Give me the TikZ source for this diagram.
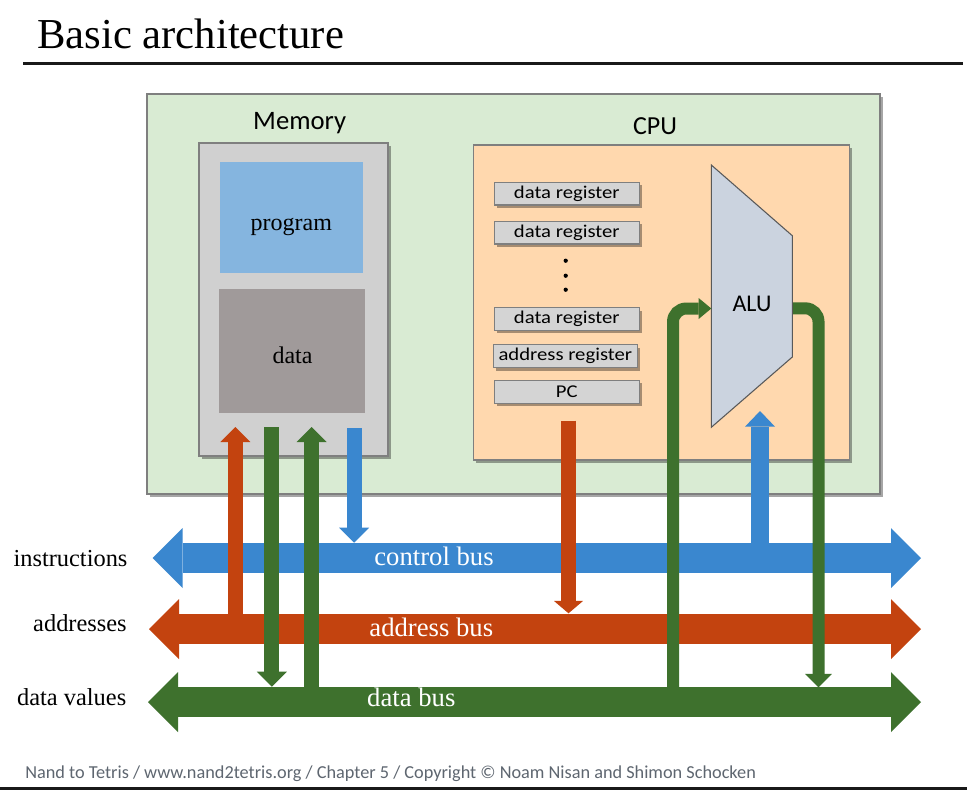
\documentclass[tikz,border=0pt]{standalone}
\usepackage{fontspec}
\setmainfont{Liberation Serif}
\newfontfamily\calfont{Carlito}
\newfontfamily\regfont[FakeStretch=1.15]{Carlito}
\usetikzlibrary{arrows.meta,shadows,fit}
\definecolor{bgGreen}{HTML}{D9EBD3}
\definecolor{memGrey}{HTML}{D0D0D0}
\definecolor{progBlue}{HTML}{85B5DF}
\definecolor{dataGrey}{HTML}{A09A9A}
\definecolor{cpuPeach}{HTML}{FFD8AE}
\definecolor{aluFill}{HTML}{CBD3DF}
\definecolor{regFill}{HTML}{D4D4D4}
\definecolor{edgeGrey}{HTML}{7F7F7F}
\definecolor{busBlue}{HTML}{3A87CF}
\definecolor{busRed}{HTML}{C3430F}
\definecolor{busGreen}{HTML}{3E712D}
\definecolor{footGrey}{HTML}{5E6670}
\begin{document}
\begin{tikzpicture}[x=0.75pt,y=-0.75pt,
  shad/.style={drop shadow={shadow xshift=2.2pt,shadow yshift=-2.2pt,fill=black,opacity=0.35}},
  boxfit/.style={inner sep=0pt,outer sep=0pt},
  panel/.style={boxfit,draw=edgeGrey,line width=0.8pt,shad},
  regbox/.style={boxfit,draw=edgeGrey,line width=0.8pt,fill=regFill,shad},
  regtxt/.style={inner sep=0pt,anchor=center,font=\regfont\fontsize{13.5}{14}\selectfont},
  bus/.style={line width=22.5pt,
    {Triangle[width=45pt,length=22.5pt,line width=0pt]}-{Triangle[width=45pt,length=22.5pt,line width=0pt]}},
  wide/.style={line width=11.25pt,-{Triangle[width=22.5pt,length=11.25pt,line width=0pt]}},
  buslbl/.style={anchor=base,text=white,font=\fontsize{20}{24}\selectfont,inner sep=0pt},
  sidelbl/.style={anchor=base east,font=\fontsize{18.3}{22}\selectfont,inner sep=0pt},
  cal/.style={anchor=base,inner sep=0pt,font=\calfont\fontsize{#1}{#1}\selectfont}
]
\useasboundingbox (0,0) rectangle (967,790);
\fill[white] (0,0) rectangle (967,790);

% title
\node[anchor=base west,inner sep=0pt,font=\fontsize{32}{36}\selectfont] (title) at (37,48) {Basic architecture};
\coordinate (ruleL) at (23,63.7);
\coordinate (ruleR) at (963,63.7);
\draw[line width=2.25pt,black!90] (ruleL) -- (ruleR);

% computer panel
\node[panel,fill=bgGreen,fit={(147,94)(880,494)}] (computer) {};

% memory
\node[cal=20] (memlbl) at (299.7,129.3) {Memory};
\node[panel,fill=memGrey,fit={(199,143)(388,456)}] (memory) {};
\node[boxfit,fill=progBlue,fit={(220,162)(363,273)}] (program) {};
\node[anchor=base,inner sep=0pt,font=\fontsize{18}{22}\selectfont] (proglbl) at (291.3,230) {program};
\node[boxfit,fill=dataGrey,fit={(219,289)(365,413)}] (data) {};
\node[anchor=base,inner sep=0pt,font=\fontsize{18}{22}\selectfont] (datalbl) at (292.5,363.3) {data};

% cpu
\node[cal=19.5] (cpulbl) at (655,134) {CPU};
\node[panel,fill=cpuPeach,fit={(473.3,145)(849.3,460)}] (cpu) {};
\node[regbox,fit={(494.3,182.3)(639.3,205)}] (reg1) {};
\node[regtxt] (reg1t) at (reg1.center) {data register};
\node[regbox,fit={(494.3,221.3)(639.3,244)}] (reg2) {};
\node[regtxt] (reg2t) at (reg2.center) {data register};
\fill (565.7,260.7) circle (1.6pt) (565.7,275.7) circle (1.6pt) (565.7,289.7) circle (1.6pt);
\node[regbox,fit={(494.3,307.7)(639.3,330.3)}] (reg3) {};
\node[regtxt] (reg3t) at (reg3.center) {data register};
\node[regbox,fit={(493.3,344.7)(637.3,367.7)}] (areg) {};
\node[regtxt] (aregt) at (areg.center) {address register};
\node[regbox,fit={(494.3,380.3)(639.3,403.3)}] (pc) {};
\node[regtxt] (pct) at (pc.center) {PC};

% ALU
\coordinate (aluTL) at (711.3,165);
\coordinate (aluTR) at (792.3,235.7);
\coordinate (aluBR) at (792.3,357);
\coordinate (aluBL) at (711.3,427.3);
\draw[fill=aluFill,draw=black!65,line width=0.8pt] (aluTL) -- (aluTR) -- (aluBR) -- (aluBL) -- cycle;
\node[cal=18] (alulbl) at (752,311.7) {ALU};

% buses
\coordinate (ctlL) at (152.7,558);  \coordinate (ctlR) at (921,558);
\coordinate (adrL) at (149,629);    \coordinate (adrR) at (921,629);
\coordinate (datL) at (148,702);    \coordinate (datR) at (921,702);
\draw[bus,busBlue] (ctlL) -- (ctlR);
\draw[bus,busRed] (adrL) -- (adrR);
\draw[bus,busGreen] (datL) -- (datR);
\node[buslbl] (ctllbl) at (434,565) {control bus};
\node[buslbl] (adrlbl) at (431.3,636) {address bus};
\node[buslbl] (datlbl) at (411.3,706.7) {data bus};
\node[sidelbl] (instr) at (127.7,566.7) {instructions};
\node[sidelbl] (addrs) at (127,631.7) {addresses};
\node[sidelbl] (dvals) at (126.5,705) {data values};

% memory connections
\coordinate (mb1) at (354.2,428);   \coordinate (mb2) at (354.2,542.7);
\coordinate (mr1) at (235.3,629);   \coordinate (mr2) at (235.3,427);
\coordinate (mg1) at (271.8,427);   \coordinate (mg2) at (271.8,686.7);
\coordinate (mh1) at (311.7,702);   \coordinate (mh2) at (311.7,427);
\draw[wide,busBlue] (mb1) -- (mb2);
\draw[wide,busRed] (mr1) -- (mr2);
\draw[wide,busGreen] (mg1) -- (mg2);
\draw[wide,busGreen] (mh1) -- (mh2);

% cpu connections
\coordinate (pc1) at (568.5,420.7); \coordinate (pc2) at (568.5,613.3);
\draw[busRed,line width=11.25pt,-{Triangle[width=21.75pt,length=9.25pt,line width=0pt]}] (pc1) -- (pc2);
\coordinate (ab1) at (760,558);     \coordinate (ab2) at (760,411);
\draw[busBlue,line width=13.3pt,-{Triangle[width=22.5pt,length=11.75pt,line width=0pt]}] (ab1) -- (ab2);
\coordinate (gl1) at (673,702);     \coordinate (gl2) at (711.3,308.5);
\draw[busGreen,line width=9pt,rounded corners=10pt,-{Triangle[width=15.75pt,length=9.5pt,line width=0pt]}] (gl1) |- (gl2);
\coordinate (gr1) at (793,308.3);   \coordinate (gr2) at (818.5,687.3);
\draw[busGreen,line width=9pt,rounded corners=10pt,-{Triangle[width=20pt,length=10pt,line width=0pt]}] (gr1) -| (gr2);

% footer
\node[anchor=base west,inner sep=0pt,text=footGrey,font=\calfont\fontsize{13.7}{15}\selectfont] (footer) at (25,778.3) {Nand to Tetris / www.nand2tetris.org / Chapter 5 / Copyright © Noam Nisan and Shimon Schocken};
\coordinate (botL) at (0,788.6);
\coordinate (botR) at (967,788.6);
\draw[line width=2pt,black!90] (botL) -- (botR);
\end{tikzpicture}
\end{document}
